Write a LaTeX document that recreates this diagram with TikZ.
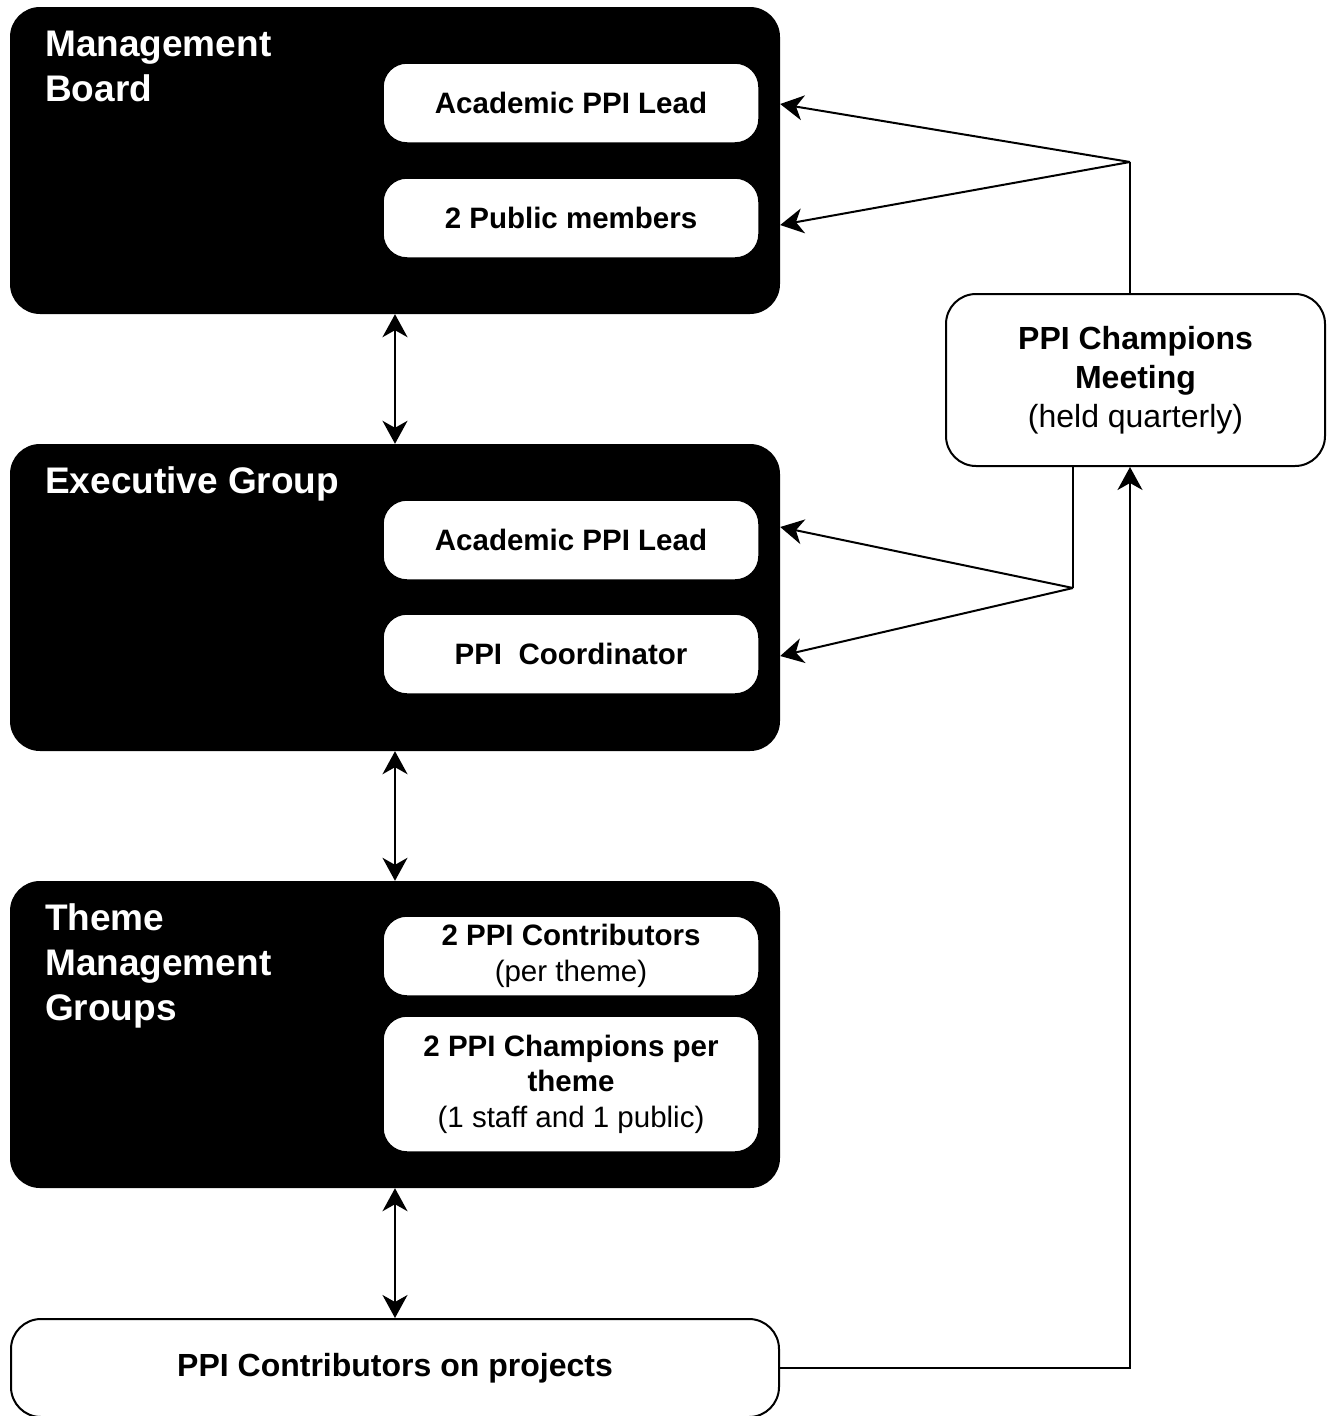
\documentclass[tikz,border=0pt]{standalone}
\usepackage{fontspec}
\setmainfont{Liberation Sans}
\usetikzlibrary{arrows.meta,calc}
\tikzset{
  blackbox/.style={fill=black, draw=none, rounded corners=30pt, minimum width=770pt, minimum height=307pt, inner sep=0pt},
  inbox/.style={fill=white, draw=black, line width=1.5pt, rounded corners=24pt, minimum width=376pt, inner sep=0pt, align=center,
     font=\fontsize{29.5pt}{35.5pt}\selectfont},
  grouptitle/.style={text=white, anchor=north west, inner sep=0pt, align=left, font=\fontsize{37pt}{45pt}\selectfont\bfseries},
  whitebox/.style={fill=white, draw=black, line width=2pt, rounded corners=30pt, inner sep=0pt, align=center},
  conn/.style={line width=2pt, draw=black},
  arr/.style={conn, -{Stealth[length=23pt,width=25pt,inset=7pt]}},
  darr/.style={conn, {Stealth[length=23pt,width=25pt,inset=7pt]}-{Stealth[length=23pt,width=25pt,inset=7pt]}},
}
\begin{document}
\begin{tikzpicture}[x=1pt,y=-1pt]
\useasboundingbox (0,0) rectangle (1333,1416);

% Management Board
\node[blackbox] (mb) at (395,160.5) {};
\node[grouptitle] (mbt) at (45,31) {Management\\Board};
\node[inbox, minimum height=80pt] (mbl) at (571,103) {\bfseries Academic PPI Lead};
\node[inbox, minimum height=80pt] (mbp) at (571,218) {\bfseries 2 Public members};

% Executive Group
\node[blackbox] (eg) at (395,597.5) {};
\node[grouptitle] (egt) at (45,466) {Executive Group};
\node[inbox, minimum height=80pt] (egl) at (571,540) {\bfseries Academic PPI Lead};
\node[inbox, minimum height=80pt] (egc) at (571,654) {\bfseries PPI\ \ Coordinator};

% Theme Management Groups
\node[blackbox] (tm) at (395,1034.5) {};
\node[grouptitle] (tmt) at (45,903) {Theme\\Management\\Groups};
\node[inbox, minimum height=80pt] (tmc) at (571,956) {\bfseries 2 PPI Contributors\\(per theme)};
\node[inbox, minimum height=136pt] (tmp) at (571,1084) {\bfseries 2 PPI Champions per\\\bfseries theme\\(1 staff and 1 public)};

% PPI Contributors on projects
\node[whitebox, minimum width=768pt, minimum height=98pt, font=\fontsize{32pt}{38pt}\selectfont\bfseries] (pc) at (395,1368) {PPI Contributors on projects};

% PPI Champions Meeting
\node[whitebox, minimum width=379pt, minimum height=172pt, font=\fontsize{32pt}{39pt}\selectfont] (pcm) at (1135.5,380) {\bfseries PPI Champions\\\bfseries Meeting\\(held quarterly)};

% vertical double arrows
\draw[darr] (mb.south) -- (eg.north);
\draw[darr] (eg.south) -- (tm.north);
\draw[darr] (tm.south) -- (pc.north);

% PCM to Management Board
\coordinate (j1) at (1130,162);
\draw[conn] ([xshift=-5.5pt]pcm.north) -- (j1);
\draw[arr] (j1) -- ([yshift=-1pt]mb.east |- mbl.east);
\draw[arr] (j1) -- ([yshift=-7pt]mb.east |- mbp.east);

% PCM to Executive Group
\coordinate (j2) at (1073,588);
\draw[conn] ([xshift=-62.5pt]pcm.south) -- (j2);
\draw[arr] (j2) -- ([yshift=13pt]eg.east |- egl.east);
\draw[arr] (j2) -- ([yshift=-2pt]eg.east |- egc.east);

% Contributors on projects to PCM
\draw[arr] (pc.east) -| ([xshift=-5.5pt]pcm.south);
\end{tikzpicture}
\end{document}
